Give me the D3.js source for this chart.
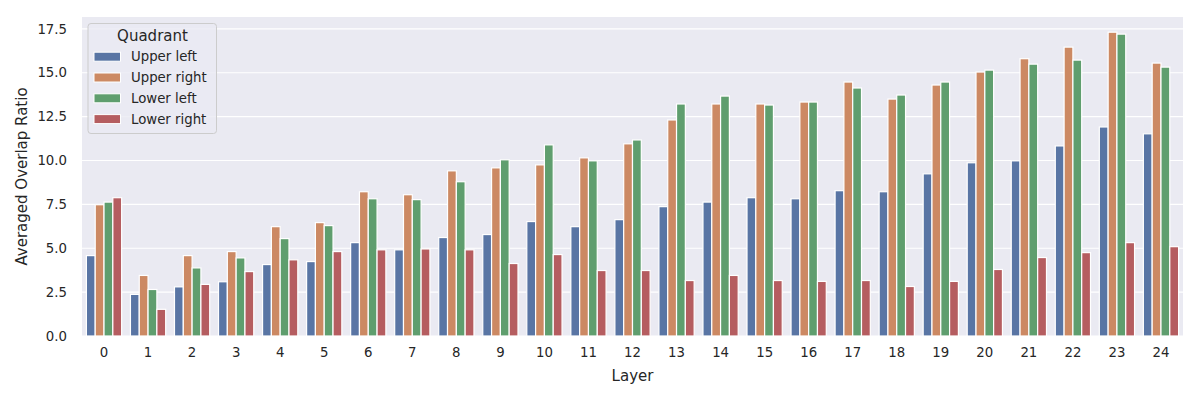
<!DOCTYPE html>
<html>
<head>
<meta charset="utf-8">
<script src="https://cdn.jsdelivr.net/npm/d3@7"></script>
<style>
  html, body { margin: 0; padding: 0; background: #ffffff; }
  svg { display: block; font-family: "DejaVu Sans", sans-serif; }
</style>
</head>
<body>
<svg id="chart" width="1200" height="400"></svg>
<script>
const layers = d3.range(25).map(String);
const quadrants = ["Upper left", "Upper right", "Lower left", "Lower right"];
const upperLeft  = [4.58, 2.37, 2.80, 3.09, 4.07, 4.24, 5.32, 4.91, 5.61, 5.78, 6.52, 6.23, 6.63, 7.37, 7.63, 7.88, 7.82, 8.28, 8.22, 9.24, 9.87, 9.98, 10.83, 11.91, 11.52];
const upperRight = [7.48, 3.45, 4.58, 4.81, 6.23, 6.46, 8.22, 8.05, 9.41, 9.58, 9.75, 10.15, 10.95, 12.31, 13.22, 13.22, 13.33, 14.47, 13.50, 14.30, 15.04, 15.80, 16.46, 17.31, 15.55];
const lowerLeft  = [7.63, 2.65, 3.88, 4.45, 5.55, 6.29, 7.82, 7.77, 8.79, 10.04, 10.89, 9.98, 11.17, 13.22, 13.67, 13.16, 13.33, 14.13, 13.73, 14.47, 15.15, 15.49, 15.72, 17.20, 15.32];
const lowerRight = [7.88, 1.52, 2.94, 3.67, 4.34, 4.81, 4.91, 4.96, 4.91, 4.13, 4.64, 3.73, 3.73, 3.16, 3.45, 3.16, 3.11, 3.16, 2.82, 3.11, 3.79, 4.47, 4.75, 5.32, 5.09];
const yTicks = [0, 2.5, 5, 7.5, 10, 12.5, 15, 17.5];
const colors = ["#5975A4", "#CC8963", "#5F9E6E", "#B55D60"];

const series = [upperLeft, upperRight, lowerLeft, lowerRight];
const rows = [];
layers.forEach((l, i) => quadrants.forEach((q, j) => rows.push({layer: l, quadrant: q, value: series[j][i]})));

const svg = d3.select("#chart");
const m = {left: 82, right: 17, top: 17, bottom: 64};
const W = 1200, H = 400;
const iw = W - m.left - m.right, ih = H - m.top - m.bottom;
const textColor = "#262626";

const g = svg.append("g").attr("transform", `translate(${m.left},${m.top})`);

const yMax = d3.max(rows, d => d.value) * 1.05;
const x = d3.scaleBand().domain(layers).range([0, iw]).paddingInner(0.2).paddingOuter(0.1);
const xi = d3.scaleBand().domain(quadrants).range([0, x.bandwidth()]).padding(0);
const y = d3.scaleLinear().domain([0, yMax]).range([ih, 0]);
const color = d3.scaleOrdinal().domain(quadrants).range(colors);

g.append("rect").attr("width", iw).attr("height", ih).attr("fill", "#EAEAF2");

// grid
g.append("g").selectAll("line").data(yTicks).join("line")
  .attr("x1", 0).attr("x2", iw)
  .attr("y1", d => y(d)).attr("y2", d => y(d))
  .attr("stroke", "#ffffff").attr("stroke-width", 1.1);

// bars
g.append("g").selectAll("rect").data(rows).join("rect")
  .attr("x", d => x(d.layer) + xi(d.quadrant))
  .attr("width", xi.bandwidth())
  .attr("y", d => y(d.value))
  .attr("height", d => y(0) - y(d.value))
  .attr("fill", d => color(d.quadrant))
  .attr("stroke", "#ffffff").attr("stroke-width", 1.2);

// y axis
const yAxis = g.append("g").call(d3.axisLeft(y).tickValues(yTicks).tickFormat(d3.format(".1f")).tickSize(0).tickPadding(15));
yAxis.select(".domain").remove();
yAxis.selectAll("text").attr("fill", textColor).style("font-size", "13.3px").style("font-family", "DejaVu Sans");

// x axis
const xAxis = g.append("g").attr("transform", `translate(0,${ih})`)
  .call(d3.axisBottom(x).tickSize(0).tickPadding(12));
xAxis.select(".domain").remove();
xAxis.selectAll("text").attr("fill", textColor).style("font-size", "13.3px").style("font-family", "DejaVu Sans");

// axis labels
svg.append("text").attr("x", m.left + iw / 2).attr("y", 381).attr("text-anchor", "middle")
  .attr("fill", textColor).style("font-size", "15px").text("Layer");
svg.append("text").attr("transform", `translate(27,${m.top + ih / 2}) rotate(-90)`).attr("text-anchor", "middle")
  .attr("fill", textColor).style("font-size", "15px").text("Averaged Overlap Ratio");

// legend
const lg = svg.append("g").attr("transform", "translate(88,23.5)");
lg.append("rect").attr("width", 128.5).attr("height", 110).attr("rx", 3)
  .attr("fill", "#EAEAF2").attr("fill-opacity", 0.8).attr("stroke", "#CCCCCC").attr("stroke-width", 1);
lg.append("text").attr("x", 64.5).attr("y", 17.5).attr("text-anchor", "middle")
  .attr("fill", textColor).style("font-size", "15px").text("Quadrant");
const items = lg.selectAll("g.item").data(quadrants).join("g").attr("class", "item")
  .attr("transform", (d, i) => `translate(0,${33.2 + i * 20.8})`);
items.append("rect").attr("x", 6).attr("y", -4.5).attr("width", 26.5).attr("height", 9)
  .attr("fill", d => color(d)).attr("stroke", "#ffffff").attr("stroke-width", 1);
items.append("text").attr("x", 43).attr("y", 0).attr("dy", "0.36em")
  .attr("fill", textColor).style("font-size", "13.3px").text(d => d);
</script>
</body>
</html>
